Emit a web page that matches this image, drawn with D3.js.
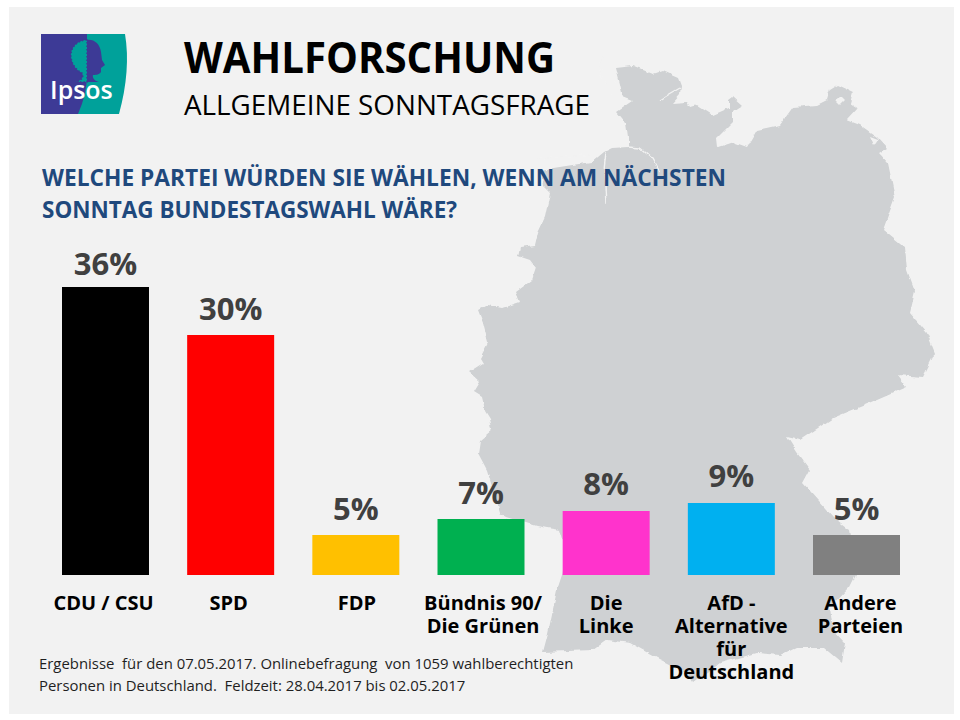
<!DOCTYPE html>
<html>
<head>
<meta charset="utf-8" />
<style>
  html, body { margin: 0; padding: 0; background: #fff; }
  text { font-family: "Open Sans", sans-serif; }
  .value { font-size: 31px; font-weight: 700; fill: #404040; text-anchor: middle; }
  .tick text { font-family: "Open Sans", sans-serif; font-size: 20px; font-weight: 700; fill: #000; }
  .note { font-size: 14.9px; fill: #1f1f1f; }
  .question { font-size: 23.5px; font-weight: 700; fill: #1f497d; }
</style>
</head>
<body>
<div id="vis"></div>
<script src="https://d3js.org/d3.v7.min.js"></script>
<script>
  // ** DATA **
  var parties = ["CDU / CSU", "SPD", "FDP", "Bündnis 90/\nDie Grünen", "Die\nLinke", "AfD -\nAlternative\nfür\nDeutschland", "Andere\nParteien"];
  var shares = [36, 30, 5, 7, 8, 9, 5];
  var partyColors = ["#000000", "#ff0000", "#ffc000", "#00b050", "#ff33cc", "#00b0f0", "#808080"];
  var questionLines = ["WELCHE PARTEI WÜRDEN SIE WÄHLEN, WENN AM NÄCHSTEN", "SONNTAG BUNDESTAGSWAHL WÄRE?"];
  var noteLines = ["Ergebnisse  für den 07.05.2017. Onlinebefragung  von 1059 wahlberechtigten", "Personen in Deutschland.  Feldzeit: 28.04.2017 bis 02.05.2017"];

  // the original labels were placed by hand, so they sit slightly off their bars
  var labelNudge = [-2, -2, 1, 2, 0, 0, 4];
  var valueLift = [12, 15, 15, 15, 16, 16, 15];
  var questionWidths = [684, 415];

  // traced outline of Germany, background decoration only
  var germany = "M550 193L543 186L541 170L566 166L592 162L604 152L612 148L628 147L628 138L626 123L617 112L633 101L623 97L620 84L616 68L633 66L643 70L653 74L662 71L678 78L681 86L680 95L673 103L687 102L690 107L697 105L713 115L729 108L729 100L733 97L742 105L737 108L733 111L733 122L725 130L717 138L718 147L733 142L747 147L757 130L780 125L793 107L817 105L827 100L830 90L838 85L853 92L850 103L858 108L847 120L860 125L877 137L887 148L879 153L888 163L895 197L883 230L905 248L907 270L915 292L910 313L927 333L935 353L923 377L898 375L907 387L877 400L833 418L800 440L787 437L797 453L810 470L803 483L833 517L850 530L857 573L850 587L830 608L833 630L845 643L842 663L823 647L797 647L780 655L757 653L720 663L693 683L687 673L657 658L630 643L607 640L593 650L543 652L548 633L557 590L562 575L566 550L560 530L547 528L537 526L507 517L500 513L487 470L478 453L480 440L492 430L490 418L485 410L482 397L474 392L480 382L469 372L483 363L480 358L488 343L483 323L478 310L487 305L502 308L520 302L516 292L532 280L536 268L530 260L518 256L520 247L535 245L538 232L545 217Z";

  var W = 960, H = 720;

  var svg = d3.select("#vis").append("svg")
    .attr("width", W).attr("height", H)
    .style("display", "block");

  // roughens the traced straight edges into a coastline
  var rough = svg.append("defs").append("filter").attr("id", "rough")
    .attr("x", "-5%").attr("y", "-5%").attr("width", "110%").attr("height", "110%");
  rough.append("feTurbulence").attr("type", "fractalNoise").attr("baseFrequency", 0.09).attr("numOctaves", 3).attr("seed", 4).attr("result", "noise");
  rough.append("feDisplacementMap").attr("in", "SourceGraphic").attr("in2", "noise").attr("scale", 5).attr("xChannelSelector", "R").attr("yChannelSelector", "G").attr("result", "moved");
  rough.append("feGaussianBlur").attr("in", "moved").attr("stdDeviation", 0.4);

  // ** BACKGROUND **
  svg.append("rect").attr("x", 9).attr("y", 7).attr("width", 945).attr("height", 707).attr("fill", "#f2f2f2");

  var map = svg.append("g").attr("filter", "url(#rough)");
  map.append("path").attr("d", germany).attr("fill", "#cfd1d3");

  // Elbe, Weser, Schlei and the coast islands are lighter cuts through the map
  var cuts = ["M628 147L640 148L652 158L660 172", "M606 152L604 170L606 204", "M660 100L668 95L680 88", "M536 159L560 157L590 155", "M604 54L600 66L602 80"];
  map.selectAll(".cut").data(cuts).enter().append("path")
    .attr("class", "cut")
    .attr("d", function(d) { return d; })
    .attr("fill", "none")
    .attr("stroke", "#f2f2f2")
    .attr("stroke-width", 1.4);
  var islands = ["M605 82l8 -3l3 5l-8 3z", "M612 94l8 -3l3 4l-8 3z", "M835 100l6 -4l4 4l-5 5z", "M870 136l8 3l-4 6z"];
  map.selectAll(".island").data(islands).enter().append("path")
    .attr("class", "island")
    .attr("d", function(d) { return d; })
    .attr("fill", "#f2f2f2");

  // ** LOGO **
  var logo = svg.append("g").attr("transform", "translate(41,34)");
  logo.append("rect").attr("width", 47).attr("height", 80).attr("fill", "#3d3a96");
  logo.append("path").attr("d", "M46 0L84 0Q90 36 78 80L37 80Q46 60 46 40Z").attr("fill", "#00a19a");
  logo.append("path").attr("d", "M46 6C36 6 29 14 30 23C31 32 37 37 41 39C43 43 41 46 35 48L46 48Z")
    .attr("fill", "#00a19a")
    .attr("stroke", "#3d3a96").attr("stroke-width", 1.5).attr("stroke-dasharray", "1.5 2");
  logo.append("path").attr("d", "M46 6C53 5 59 10 60 18L61 26L64 31L60 34L60 38C58 41 54 41 52 41C51 44 54 47 58 48L46 48Z").attr("fill", "#3d3a96");
  logo.append("text").attr("x", 9).attr("y", 65).attr("font-size", 25).attr("font-weight", 600).attr("fill", "#fff").text("Ipsos");

  // ** HEADINGS **
  svg.append("text").attr("x", 184).attr("y", 72.5).attr("font-size", 43).attr("font-weight", 700).attr("fill", "#000")
    .attr("textLength", 371).attr("lengthAdjust", "spacingAndGlyphs").text("WAHLFORSCHUNG");
  svg.append("text").attr("x", 184).attr("y", 115).attr("font-size", 28).attr("fill", "#000")
    .attr("textLength", 406).attr("lengthAdjust", "spacingAndGlyphs").text("ALLGEMEINE SONNTAGSFRAGE");

  svg.selectAll(".question").data(questionLines).enter().append("text")
    .attr("class", "question")
    .attr("x", 42)
    .attr("y", function(d, i) { return 186 + i * 32; })
    .attr("textLength", function(d, i) { return questionWidths[i]; })
    .attr("lengthAdjust", "spacingAndGlyphs")
    .text(function(d) { return d; });

  // ** BARS **
  var x = d3.scaleBand().domain(parties).range([62, 900]).paddingInner(0.305).paddingOuter(0);
  var y = d3.scaleLinear().domain([0, 36]).range([575, 287]);

  svg.selectAll(".bar").data(parties).enter().append("rect")
    .attr("class", "bar")
    .attr("x", function(d) { return x(d); })
    .attr("y", function(d, i) { return y(shares[i]); })
    .attr("width", x.bandwidth())
    .attr("height", function(d, i) { return y(0) - y(shares[i]); })
    .attr("fill", function(d, i) { return partyColors[i]; });

  svg.selectAll(".value").data(parties).enter().append("text")
    .attr("class", "value")
    .attr("x", function(d) { return x(d) + x.bandwidth() / 2; })
    .attr("y", function(d, i) { return y(shares[i]) - valueLift[i]; })
    .text(function(d, i) { return shares[i] + "%"; });

  // ** CATEGORY AXIS **
  var axis = svg.append("g")
    .attr("transform", "translate(0,575)")
    .call(d3.axisBottom(x).tickSize(0));
  axis.select(".domain").remove();
  axis.selectAll(".tick text").each(function(d, i) {
    var label = d3.select(this).text(null).attr("y", null).attr("dy", null).attr("text-anchor", "middle");
    d.split("\n").forEach(function(line, j) {
      label.append("tspan").attr("x", labelNudge[i]).attr("y", 35 + j * 23).text(line);
    });
  });

  // ** FOOTNOTE **
  svg.selectAll(".note").data(noteLines).enter().append("text")
    .attr("class", "note")
    .attr("x", 39)
    .attr("y", function(d, i) { return 669 + i * 22; })
    .attr("xml:space", "preserve")
    .style("white-space", "pre")
    .text(function(d) { return d; });
</script>
</body>
</html>
